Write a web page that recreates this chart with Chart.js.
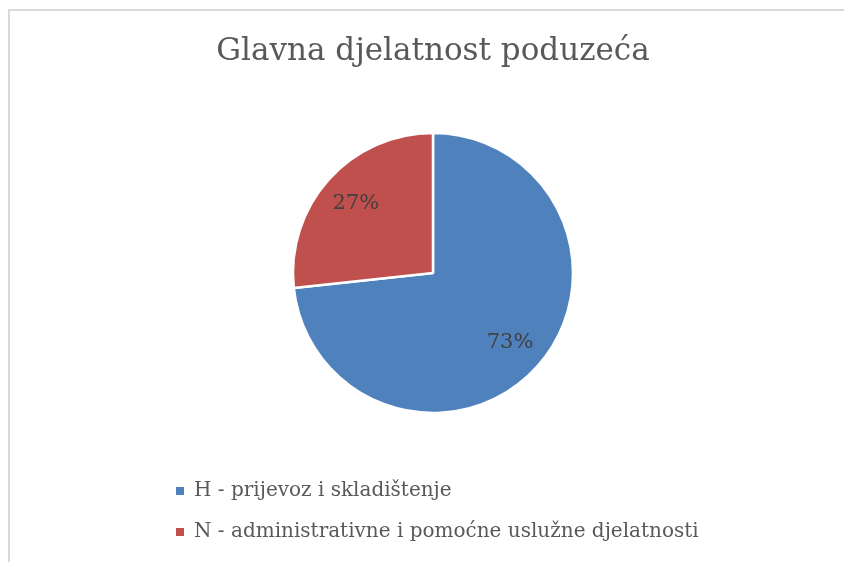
<!DOCTYPE html>
<html>
<head>
<meta charset="utf-8">
<script src="https://cdn.jsdelivr.net/npm/chart.js@4/dist/chart.umd.min.js"></script>
<style>
  html, body { margin: 0; padding: 0; background: #ffffff; overflow: hidden; }
  canvas { display: block; }
</style>
</head>
<body>
<canvas id="c" width="844" height="562"></canvas>
<script>
const chartTitle = 'Glavna djelatnost poduzeća';
const categories = ['H - prijevoz i skladištenje', 'N - administrativne i pomoćne uslužne djelatnosti'];
const shares = [73.3, 26.7];
const sliceColors = ['#4F81BD', '#C0504D'];

const FONT = "'DejaVu Serif', serif";

const frame = {
  id: 'frame',
  beforeDraw(chart) {
    const ctx = chart.ctx;
    ctx.save();
    ctx.fillStyle = '#ffffff';
    ctx.fillRect(0, 0, chart.width, chart.height);
    ctx.fillStyle = '#d9d9d9';
    ctx.fillRect(8, 9, chart.width - 8, 2);
    ctx.fillRect(8, 9, 2, chart.height - 9);
    ctx.restore();
  }
};

const pieLabels = {
  id: 'pieLabels',
  afterDatasetsDraw(chart) {
    const ctx = chart.ctx;
    const meta = chart.getDatasetMeta(0);
    const data = chart.data.datasets[0].data;
    const total = data.reduce((a, b) => a + b, 0);
    ctx.save();
    ctx.font = "21px " + FONT;
    ctx.fillStyle = '#404040';
    ctx.textAlign = 'center';
    ctx.textBaseline = 'middle';
    meta.data.forEach((arc, i) => {
      const p = arc.getProps(['x', 'y', 'startAngle', 'endAngle', 'outerRadius'], true);
      const mid = (p.startAngle + p.endAngle) / 2;
      const r = p.outerRadius * 0.74;
      const tx = p.x + Math.cos(mid) * r;
      const ty = p.y + Math.sin(mid) * r;
      ctx.fillText(Math.round(data[i] / total * 100) + '%', tx, ty);
    });
    ctx.restore();
  }
};

new Chart(document.getElementById('c'), {
  type: 'pie',
  data: {
    labels: categories,
    datasets: [{
      data: shares,
      backgroundColor: sliceColors,
      borderColor: '#ffffff',
      borderWidth: 2.5,
      radius: 140
    }]
  },
  options: {
    responsive: false,
    animation: false,
    devicePixelRatio: 1,
    layout: { padding: { left: 155, right: 133, top: 0, bottom: 10 } },
    plugins: {
      tooltip: { enabled: false },
      title: {
        display: true,
        text: chartTitle,
        color: '#595959',
        font: { family: FONT, size: 31, weight: 'normal' },
        padding: { top: 33.4, bottom: 15.4 }
      },
      legend: {
        display: true,
        position: 'bottom',
        align: 'start',
        labels: {
          boxWidth: 8,
          boxHeight: 8,
          padding: 21,
          color: '#595959',
          font: { family: FONT, size: 20 },
          generateLabels(chart) {
            const ds = chart.data.datasets[0];
            return chart.data.labels.map((l, i) => ({
              text: l,
              fillStyle: ds.backgroundColor[i],
              strokeStyle: ds.backgroundColor[i],
              lineWidth: 0,
              fontColor: '#595959',
              index: i
            }));
          }
        }
      }
    }
  },
  plugins: [frame, pieLabels]
});
</script>
</body>
</html>
